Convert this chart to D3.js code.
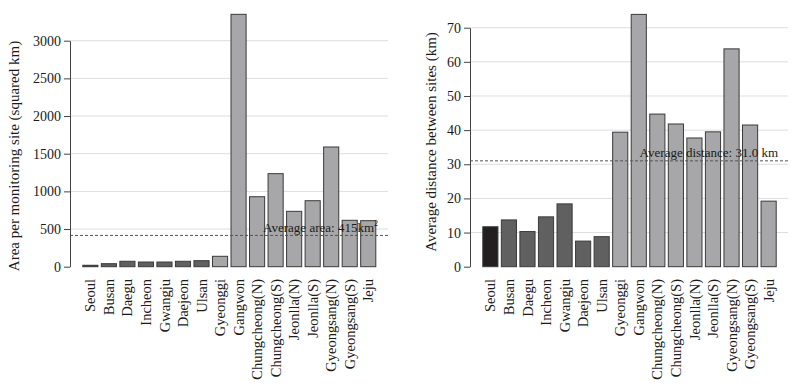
<!DOCTYPE html>
<html>
<head>
<meta charset="utf-8">
<script src="https://cdnjs.cloudflare.com/ajax/libs/d3/7.8.5/d3.min.js"></script>
<style>
body { margin: 0; background: #fff; }
svg { display: block; font-family: "Liberation Serif", "Times New Roman", serif; }
</style>
</head>
<body>
<svg></svg>
<script>
var svgWidth = 800;
var svgHeight = 386;

// regions, left to right
var regions = ["Seoul", "Busan", "Daegu", "Incheon", "Gwangju", "Daejeon", "Ulsan",
    "Gyeonggi", "Gangwon", "Chungcheong(N)", "Chungcheong(S)", "Jeonlla(N)",
    "Jeonlla(S)", "Gyeongsang(N)", "Gyeongsang(S)", "Jeju"];
var regionType = ["capital", "metro", "metro", "metro", "metro", "metro", "metro",
    "province", "province", "province", "province", "province",
    "province", "province", "province", "province"];

var areaValues = [19, 40, 72, 62, 62, 72, 80, 138, 3350, 929, 1235, 735, 876, 1589, 616, 611];
var areaTicks = [0, 500, 1000, 1500, 2000, 2500, 3000];
var areaAverage = 415;

var distanceValues = [11.7, 13.7, 10.3, 14.6, 18.4, 7.5, 8.8, 39.4, 73.9, 44.7, 41.8, 37.7, 39.5, 63.8, 41.5, 19.2];
var distanceTicks = [0, 10, 20, 30, 40, 50, 60, 70];
var distanceAverage = 31.0;

var typeColor = { capital: "#231f20", metro: "#606060", province: "#a7a7a9" };

var svg = d3.select("svg")
    .attr("width", svgWidth)
    .attr("height", svgHeight);

function drawPanel(opts) {
    var g = svg.append("g");

    var x = d3.scaleBand()
        .domain(regions)
        .range([opts.barStart, opts.barEnd])
        .paddingInner(0.13)
        .paddingOuter(0);

    var y = d3.scaleLinear()
        .domain([0, opts.ticks[opts.ticks.length - 1]])
        .range([266.7, opts.top]);

    // grid
    g.selectAll(".grid")
        .data(opts.ticks.slice(1))
        .enter().append("line")
        .attr("x1", opts.axisX)
        .attr("x2", opts.axisX + 318)
        .attr("y1", function (d) { return y(d); })
        .attr("y2", function (d) { return y(d); })
        .attr("stroke", "#dedede")
        .attr("stroke-width", 1);

    // bars
    g.selectAll(".bar")
        .data(opts.values)
        .enter().append("rect")
        .attr("x", function (d, i) { return x(regions[i]) + 0.5; })
        .attr("width", x.bandwidth() - 1)
        .attr("y", function (d) { return y(d); })
        .attr("height", function (d) { return y(0) - y(d); })
        .attr("fill", function (d, i) { return typeColor[regionType[i]]; })
        .attr("stroke", "#3a3a3a")
        .attr("stroke-width", 1);

    // average line
    g.append("line")
        .attr("x1", opts.axisX)
        .attr("x2", opts.axisX + 318)
        .attr("y1", y(opts.average))
        .attr("y2", y(opts.average))
        .attr("stroke", "#555")
        .attr("stroke-width", 1)
        .attr("stroke-dasharray", "3,2");

    var avgText = g.append("text")
        .attr("x", opts.avgLabelX)
        .attr("y", y(opts.average) - 3.5)
        .attr("text-anchor", "end")
        .attr("font-size", 13)
        .attr("fill", "#1a1a1a");
    avgText.append("tspan").text(opts.avgLabel);
    if (opts.avgSup) {
        avgText.append("tspan")
            .attr("font-size", 8)
            .attr("dy", -6)
            .text(opts.avgSup);
    }

    // y axis
    var axis = g.append("g")
        .attr("transform", "translate(" + opts.axisX + ",0)")
        .call(d3.axisLeft(y).tickValues(opts.ticks).tickFormat(d3.format("d"))
            .tickSize(6).tickSizeOuter(0).tickPadding(3));
    axis.select(".domain").attr("stroke", "#444");
    axis.selectAll(".tick line").attr("stroke", "#444");
    axis.selectAll(".tick text")
        .attr("font-family", "Liberation Serif, Times New Roman, serif")
        .attr("font-size", 14)
        .attr("fill", "#1a1a1a");

    // y axis title
    g.append("text")
        .attr("transform", "translate(" + opts.titleX + "," + opts.titleY + ") rotate(-90)")
        .attr("text-anchor", "middle")
        .attr("dy", "0.35em")
        .attr("font-size", 15)
        .attr("fill", "#1a1a1a")
        .text(opts.title);

    // category labels
    g.selectAll(".cat")
        .data(regions)
        .enter().append("text")
        .attr("transform", function (d) {
            return "translate(" + (x(d) + x.bandwidth() / 2) + ",279) rotate(-90)";
        })
        .attr("text-anchor", "end")
        .attr("dy", "0.35em")
        .attr("font-size", 14.5)
        .attr("fill", "#1a1a1a")
        .text(function (d) { return d; });
}

drawPanel({
    values: areaValues,
    ticks: areaTicks,
    average: areaAverage,
    avgLabel: "Average area: 415km",
    avgSup: "2",
    avgLabelX: 378,
    axisX: 70,
    barStart: 82.3,
    barEnd: 376.3,
    top: 40.7,
    title: "Area per monitoring site (squared km)",
    titleX: 14,
    titleY: 156
});

drawPanel({
    values: distanceValues,
    ticks: distanceTicks,
    average: distanceAverage,
    avgLabel: "Average distance: 31.0 km",
    avgSup: null,
    avgLabelX: 778,
    axisX: 470,
    barStart: 482.3,
    barEnd: 776.7,
    top: 27.7,
    title: "Average distance between sites (km)",
    titleX: 431,
    titleY: 142
});
</script>
</body>
</html>
